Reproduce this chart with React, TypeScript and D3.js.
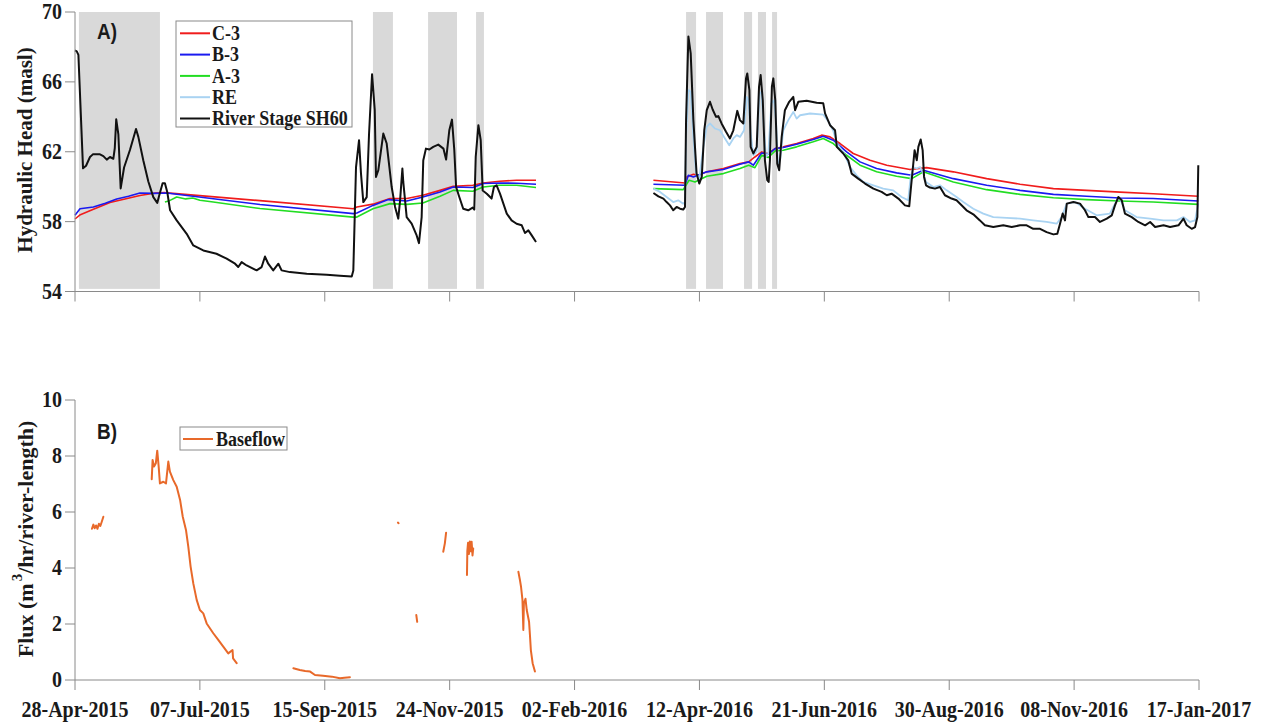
import React from "react";
import * as d3 from "d3";

type Pt = [number, number]; // [days since 28-Apr-2015, value]

const START = new Date(Date.UTC(2015, 3, 28));
const END = new Date(Date.UTC(2017, 0, 17));
const tickDays = [0, 70, 140, 210, 280, 350, 420, 490, 560, 630];
const headTicks = [54, 58, 62, 66, 70];
const fluxTicks = [0, 2, 4, 6, 8, 10];

// shaded high-flow periods [startDay, endDay]
const highFlowPeriods: Pt[] = [
  [2.2, 47.6], [167, 178.2], [197.9, 214.1], [224.8, 229.2],
  [342.5, 348.1], [353.7, 363.2], [375, 379.5], [382.8, 387.3], [390.7, 393.5],
];

// ---- Panel A: hydraulic head (masl) ----
const stage2015: Pt[] = [
  [0, 67.8], [1.0, 67.75], [1.9, 67.55], [4.5, 61.05], [6.2, 61.2], [8.4, 61.7], [10, 61.85], [12.2, 61.86],
  [14, 61.85], [15.9, 61.75], [17.8, 61.55], [19.6, 61.7], [21.5, 61.6], [22.3, 62.2], [23.1, 63.86],
  [24.3, 63.0], [25.6, 59.9], [27.5, 61.1], [30.8, 62.1], [34.2, 63.3], [35.5, 62.85], [38.3, 61.5],
  [41.1, 60.3], [43.9, 59.4], [46.1, 59.07], [47.2, 59.5], [49.1, 60.2], [50.4, 60.2], [51.7, 59.7],
  [53.3, 58.65], [57, 58.07], [62.6, 57.3], [66.3, 56.64], [71.9, 56.35], [79.3, 56.16], [85, 55.88],
  [89.7, 55.59], [91.5, 55.4], [93.4, 55.68], [96.2, 55.49], [101.8, 55.21], [104.6, 55.4], [106.5, 56.0],
  [108.3, 55.59], [111.1, 55.21], [114, 55.59], [115.8, 55.21], [120.5, 55.11], [129.9, 55.02],
  [141.1, 54.96], [148.5, 54.9], [155.1, 54.86], [156, 55.2], [157.5, 61.1], [159.2, 62.66], [160.3, 60.75],
  [161.6, 59.12], [163.5, 59.4], [164.8, 63.0], [166.5, 66.44], [168, 64.4], [168.7, 60.56], [170, 60.94],
  [172.8, 63.04], [174.7, 62.47], [177.5, 59.98], [179.4, 58.84], [181.2, 58.17], [182.2, 59.2],
  [183.5, 61.04], [184, 60.27], [185.9, 58.26], [188.7, 57.88], [191.5, 57.21], [192.8, 56.77],
  [194.3, 58.26], [195.2, 61.5], [196.7, 62.18], [198.6, 62.13], [200.8, 62.28], [203.6, 62.41],
  [206.5, 62.18], [208, 61.55], [209.8, 63.23], [211.3, 63.84], [212.6, 62.09], [213.6, 59.98],
  [215.4, 59.41], [217.6, 58.74], [220.4, 58.65], [222.9, 58.8], [223.8, 58.69], [224.6, 61.7],
  [226.1, 63.52], [227.4, 62.66], [228.5, 59.78], [230.8, 59.6], [233.5, 59.32], [234.8, 59.98],
  [236.3, 60.08], [238.2, 59.6], [240.1, 59.03], [242, 58.46], [244.7, 58.07], [247.5, 57.88],
  [250.4, 57.79], [252.2, 57.35], [254.1, 57.5], [256, 57.21], [258.4, 56.83],
];

const stage2016: Pt[] = [
  [324.2, 59.64], [327, 59.45], [329.8, 59.32], [331.6, 59.12], [333.5, 58.93], [335.3, 58.65],
  [337.2, 58.84], [339.1, 58.74], [340.9, 58.69], [341.9, 58.84], [342.5, 63.8], [343.8, 68.6],
  [345.1, 67.63], [346.6, 63.81], [348.4, 60.75], [349.9, 60.18], [351.3, 60.56], [352.7, 63.23],
  [354.1, 64.38], [355.9, 64.86], [357.4, 64.42], [359.3, 64.0], [360.6, 64.04], [362.4, 63.62],
  [364.9, 63.14], [367.1, 62.76], [369, 63.23], [371.2, 64.34], [372.7, 63.81], [374.6, 63.62],
  [376.1, 66.2], [376.8, 66.48], [378, 65.53], [378.7, 62.28], [380.2, 61.9], [382.1, 62.28],
  [383.4, 65.72], [384.3, 66.39], [385.5, 64.95], [386.7, 61.51], [388, 60.37], [388.8, 60.27],
  [389.5, 61.51], [390.6, 65.72], [391.4, 66.2], [392.5, 64.95], [393.6, 61.32], [394.7, 60.94],
  [396.1, 62.85], [397.9, 64.38], [400.3, 64.86], [402.6, 65.14], [403.6, 64.38], [405.4, 64.86],
  [410.1, 64.92], [415.7, 64.8], [419.4, 64.77], [420.4, 64.2], [423.2, 63.52], [426, 63.23],
  [427, 62.28], [430.6, 61.9], [433.4, 61.51], [435.3, 60.75], [439, 60.46], [442.8, 60.18],
  [447.5, 59.89], [452.1, 59.7], [455, 59.51], [457.7, 59.6], [461.5, 59.32], [465.2, 58.93],
  [467.6, 58.88], [468.4, 59.79], [469.5, 60.94], [470.6, 62.09], [471.8, 61.51], [472.7, 62.28],
  [474, 62.7], [475.1, 62.09], [475.9, 60.56], [477, 60.08], [479.2, 59.95], [482, 59.89],
  [484.8, 59.98], [487.6, 59.51], [491.3, 59.32], [494.1, 59.22], [497.9, 58.84], [499.7, 58.65],
  [503.5, 58.42], [507.2, 58.07], [510, 57.79], [514.7, 57.69], [520.3, 57.79], [525, 57.69],
  [529.7, 57.79], [533.4, 57.79], [537.1, 57.59], [540.9, 57.59], [544.6, 57.4], [548.4, 57.27],
  [550.6, 57.31], [552.1, 57.88], [553.6, 58.46], [554.9, 58.07], [555.9, 59.03], [559.6, 59.12],
  [563.3, 59.03], [566.1, 58.65], [568, 58.26], [571.7, 58.26], [574.5, 57.98], [578.3, 58.17],
  [581.1, 58.36], [582.9, 58.93], [584.8, 59.41], [586.7, 59.22], [588.5, 58.46], [592.3, 58.26],
  [596, 57.98], [599.8, 57.79], [602.6, 57.98], [605.4, 57.69], [610.1, 57.79], [613.8, 57.69],
  [618.5, 57.79], [621.3, 58.17], [623.1, 57.79], [625.9, 57.59], [627.8, 57.69], [629.1, 58.26],
  [629.6, 61.23],
];

const re2016: Pt[] = [
  [324.2, 59.89], [327.9, 59.7], [331.6, 59.41], [335.3, 59.12], [338.1, 59.22], [340.9, 59.03],
  [341.9, 59.12], [342.5, 62.85], [343.8, 65.53], [345.1, 65.43], [346.6, 62.85], [348.1, 60.75],
  [349.9, 60.46], [352.2, 62.28], [354.1, 63.42], [355.9, 63.62], [358.7, 63.33], [361.5, 63.23],
  [364.3, 62.76], [366.7, 62.37], [369, 62.76], [370.9, 62.95], [372.7, 62.85], [375, 63.23],
  [376.5, 65.14], [377.6, 64.95], [378.7, 63.04], [380.2, 61.8], [382.1, 61.99], [383.6, 65.33],
  [384.7, 65.43], [385.8, 63.81], [387.3, 61.7], [388.6, 61.9], [390.3, 64.77], [391.8, 64.95],
  [392.9, 63.81], [394, 61.32], [395.2, 61.51], [397, 63.23], [399.8, 63.81], [402.6, 64.28],
  [404.5, 63.9], [406.4, 64.09], [412, 64.19], [419.4, 64.12], [422.2, 63.75], [425, 63.2],
  [427, 62.47], [430.6, 61.99], [434.4, 61.13], [438.1, 60.65], [441.8, 60.27], [447.5, 60.08],
  [453, 59.89], [458.6, 59.79], [463.3, 59.41], [467, 59.22], [468.4, 60.56], [469.8, 61.13],
  [471.7, 61.04], [473.6, 61.13], [475.5, 60.75], [477, 60.27], [481.1, 59.98], [484.8, 60.08],
  [488.6, 59.79], [494.1, 59.41], [497.9, 59.12], [503.5, 58.74], [509.1, 58.46], [514.7, 58.26],
  [522.2, 58.22], [529.7, 58.17], [537.1, 58.07], [544.6, 57.98], [550.2, 57.88], [553, 58.26],
  [555.9, 59.03], [560.5, 59.12], [566.1, 58.74], [572.6, 58.36], [580, 58.46], [583.9, 59.22],
  [585.7, 59.32], [588.5, 58.65], [595, 58.26], [602.6, 58.17], [610.1, 58.07], [617.6, 58.07],
  [621.3, 58.26], [625, 57.98], [627.8, 58.07], [629.6, 59.03],
];

const c3_2015: Pt[] = [
  [0, 58.15], [3, 58.4], [10, 58.7], [19.6, 59.1], [28, 59.3], [36.4, 59.5], [45, 59.64], [50, 59.66],
  [103.7, 59.2], [156, 58.74], [158, 58.84], [167, 59.0], [176.6, 59.32], [186, 59.32], [195, 59.51],
  [204.6, 59.79], [212, 60.02], [223, 60.08], [228.8, 60.21], [238, 60.31], [247.5, 60.37], [258.4, 60.37],
];
const c3_2016: Pt[] = [
  [324.2, 60.37], [341.9, 60.21], [342.8, 60.56], [346.6, 60.71], [349.5, 60.65], [354.1, 60.85],
  [363.4, 61.04], [372.7, 61.32], [377.6, 61.42], [381.1, 61.7], [384.9, 61.99], [388.6, 61.9],
  [392.4, 62.18], [397, 62.28], [404.5, 62.47], [413.8, 62.76], [418.5, 62.95], [423.2, 62.85],
  [428.8, 62.47], [436.2, 61.9], [445.6, 61.51], [455, 61.23], [468, 60.98], [477.3, 61.09],
  [492.3, 60.85], [511, 60.46], [529.7, 60.14], [548.4, 59.89], [567, 59.79], [585.7, 59.69],
  [604.3, 59.6], [629.6, 59.45],
];

const b3_2015: Pt[] = [
  [0, 58.36], [2.8, 58.74], [10.3, 58.84], [17, 59.05], [23.4, 59.3], [30, 59.45], [36.4, 59.64],
  [44, 59.62], [51.4, 59.64], [103.7, 58.98], [156, 58.46], [158, 58.49], [167, 58.93], [175.6, 59.26],
  [186, 59.18], [195, 59.41], [204.6, 59.69], [212, 59.98], [223, 59.95], [228.8, 60.18], [238, 60.21],
  [247.5, 60.2], [258.4, 60.14],
];
const b3_2016: Pt[] = [
  [324.2, 60.14], [341.9, 60.08], [343.8, 60.65], [346.6, 60.56], [354.1, 60.85], [363.4, 60.98],
  [372.7, 61.28], [377.6, 61.42], [380.2, 61.23], [384.9, 61.93], [388.6, 61.86], [392.4, 62.18],
  [397, 62.24], [404.5, 62.43], [413.8, 62.7], [419.4, 62.89], [425, 62.66], [432.5, 61.99],
  [440, 61.42], [449.3, 61.04], [460.5, 60.79], [469, 60.65], [475.5, 60.94], [492.3, 60.46],
  [511, 60.08], [529.7, 59.79], [548.4, 59.56], [567, 59.45], [585.7, 59.35], [604.3, 59.32],
  [629.6, 59.18],
];

const a3_2015: Pt[] = [
  [50.4, 59.12], [53, 59.2], [57, 59.41], [62, 59.3], [66, 59.35], [70, 59.22], [77.5, 59.12],
  [103.7, 58.75], [156, 58.26], [158, 58.26], [167, 58.74], [176.6, 59.03], [186, 58.99], [195, 59.07],
  [204.6, 59.45], [212, 59.79], [223, 59.74], [228.8, 59.98], [238, 60.08], [247.5, 60.08], [258.4, 59.95],
];
const a3_2016: Pt[] = [
  [324.2, 59.89], [340.9, 59.83], [344.2, 60.37], [347.5, 60.27], [354.1, 60.6], [363.4, 60.75],
  [372.7, 61.04], [377.6, 61.23], [381.1, 61.09], [384.9, 61.8], [388.6, 61.67], [392.4, 62.05],
  [397, 62.09], [404.5, 62.28], [413.8, 62.57], [419.4, 62.76], [425, 62.47], [432.5, 61.8],
  [440, 61.23], [449.3, 60.85], [460.5, 60.6], [469, 60.46], [475.5, 60.85], [492.3, 60.27],
  [511, 59.83], [529.7, 59.56], [548.4, 59.37], [567, 59.26], [585.7, 59.18], [604.3, 59.12],
  [629.6, 58.99],
];

// ---- Panel B: baseflow (m3/hr/river-length) ----
const baseflow: Pt[][] = [
  [[9.5, 5.4], [10.3, 5.55], [11, 5.42], [11.8, 5.52], [12.6, 5.4], [13.4, 5.58], [14.2, 5.5], [15, 5.65], [15.9, 5.83]],
  [[43, 7.17], [43.5, 7.86], [44.3, 7.62], [45.3, 7.74], [46.1, 8.19], [46.9, 7.62], [47.6, 7.02],
   [49.5, 7.08], [51, 7.02], [52.3, 7.8], [53.2, 7.44], [55.1, 7.14], [57, 6.9], [58.9, 6.43],
   [60.4, 5.83], [62.2, 5.36], [63.5, 4.76], [64.8, 4.05], [66.3, 3.45], [68.2, 2.86], [70, 2.5],
   [71.9, 2.38], [73.8, 2.02], [77.5, 1.67], [80.3, 1.43], [83.1, 1.19], [85.9, 0.95], [88.3, 1.07],
   [88.6, 0.77], [90.6, 0.6]],
  [[122.4, 0.42], [126, 0.36], [129, 0.32], [131.8, 0.3], [134.5, 0.18], [139, 0.15], [144, 0.12],
   [148.5, 0.06], [151, 0.08], [154.1, 0.1]],
  [[181, 5.62], [181.4, 5.6]],
  [[191.3, 2.32], [191.8, 2.08]],
  [[206.4, 4.58], [207.3, 4.88], [208, 5.26]],
  [[219.7, 3.75], [219.9, 4.6], [220.3, 4.9], [220.8, 4.5], [221.3, 4.95], [221.8, 4.6], [222.3, 4.94],
   [222.8, 4.45], [223.2, 4.7]],
  [[248.5, 3.87], [249.3, 3.6], [250, 3.33], [250.8, 2.86], [251.3, 1.79], [251.6, 2.74], [252.5, 2.9],
   [253.2, 2.5], [254.5, 2.08], [255, 1.6], [255.5, 1.07], [256.5, 0.6], [257.8, 0.3]],
];

const headSeries = [
  { name: "C-3", color: "#f01c1c", width: 1.6, parts: [c3_2015, c3_2016] },
  { name: "B-3", color: "#1a1af0", width: 1.6, parts: [b3_2015, b3_2016] },
  { name: "A-3", color: "#22dd22", width: 1.6, parts: [a3_2015, a3_2016] },
  { name: "RE", color: "#a9d3f2", width: 1.8, parts: [re2016] },
  { name: "River Stage SH60", color: "#111111", width: 2, parts: [stage2015, stage2016] },
];

const SERIF = "'Liberation Serif', 'Times New Roman', serif";
const SANS = "'Liberation Sans', Arial, sans-serif";
const AXIS = "#8a8a8a";
const TALL = 1.12; // glyphs are set slightly taller than wide

const dayToDate = (d: number) => new Date(START.getTime() + d * 86400000);
const fmt = d3.utcFormat("%d-%b-%Y");

function Label(props: { x: number; y: number; anchor?: string; size: number; family?: string; children: React.ReactNode }) {
  const { x, y, anchor = "start", size, family = SERIF, children } = props;
  return (
    <text transform={`translate(${x},${y}) scale(1,${TALL})`} textAnchor={anchor} dominantBaseline="central"
      fontFamily={family} fontWeight="bold" fontSize={size} fill="#1a1a1a">{children}</text>
  );
}

export default function App() {
  const x = d3.scaleUtc().domain([START, END]).range([75, 1199]);
  const yA = d3.scaleLinear().domain([54, 70]).range([291.5, 12]);
  const yB = d3.scaleLinear().domain([0, 10]).range([680, 400]);
  const lineA = d3.line<Pt>().x((d) => x(dayToDate(d[0]))).y((d) => yA(d[1]));
  const lineB = d3.line<Pt>().x((d) => x(dayToDate(d[0]))).y((d) => yB(d[1]));
  const x0 = x.range()[0];
  const x1 = x.range()[1];

  const legendRows = [33.3, 54.6, 75.9, 97.2, 118.5];

  return (
    <svg width={1262} height={723} style={{ position: "absolute", left: 0, top: 0, background: "#fff" }}>
      {/* Panel A */}
      <g>
        {highFlowPeriods.map(([a, b], i) => (
          <rect key={i} x={x(dayToDate(a))} y={yA(70)} width={x(dayToDate(b)) - x(dayToDate(a))}
            height={yA(54.15) - yA(70)} fill="#d9d9d9" />
        ))}
        {headSeries.map((s) =>
          s.parts.map((p, j) => (
            <path key={s.name + j} d={lineA(p) || ""} fill="none" stroke={s.color} strokeWidth={s.width}
              strokeLinejoin="round" />
          ))
        )}
        <line x1={x0} x2={x0} y1={yA(70)} y2={yA(54)} stroke={AXIS} />
        <line x1={x0} x2={x1} y1={yA(54)} y2={yA(54)} stroke={AXIS} />
        {tickDays.map((d) => (
          <line key={d} x1={x(dayToDate(d))} x2={x(dayToDate(d))} y1={yA(54)} y2={yA(54) + 10} stroke={AXIS} />
        ))}
        {headTicks.map((v) => (
          <g key={v}>
            <line x1={x0 - 10} x2={x0} y1={yA(v)} y2={yA(v)} stroke={AXIS} />
            <Label x={x0 - 13} y={yA(v)} anchor="end" size={20}>{v}</Label>
          </g>
        ))}
        <text transform={`translate(25,150) rotate(-90)`} textAnchor="middle" dominantBaseline="central"
          fontFamily={SERIF} fontWeight="bold" fontSize={21} fill="#1a1a1a">Hydraulic Head (masl)</text>
        <Label x={97} y={32} size={19} family={SANS}>A)</Label>
        <rect x={176} y={21} width={176} height={106} fill="#fff" stroke="#8a8a8a" />
        {headSeries.map((s, i) => (
          <g key={s.name}>
            <line x1={180} x2={210} y1={legendRows[i]} y2={legendRows[i]} stroke={s.color} strokeWidth={2} />
            <Label x={212} y={legendRows[i]} size={18}>{s.name}</Label>
          </g>
        ))}
      </g>

      {/* Panel B */}
      <g>
        {baseflow.map((p, i) => (
          <path key={i} d={lineB(p) || ""} fill="none" stroke="#e8692a" strokeWidth={2}
            strokeLinejoin="round" strokeLinecap="round" />
        ))}
        <line x1={x0} x2={x0} y1={yB(10)} y2={yB(0)} stroke={AXIS} />
        <line x1={x0} x2={x1} y1={yB(0)} y2={yB(0)} stroke={AXIS} />
        {tickDays.map((d) => (
          <g key={d}>
            <line x1={x(dayToDate(d))} x2={x(dayToDate(d))} y1={yB(0)} y2={yB(0) + 10} stroke={AXIS} />
            <Label x={x(dayToDate(d))} y={710} anchor="middle" size={20}>{fmt(dayToDate(d))}</Label>
          </g>
        ))}
        {fluxTicks.map((v) => (
          <g key={v}>
            <line x1={x0 - 10} x2={x0} y1={yB(v)} y2={yB(v)} stroke={AXIS} />
            <Label x={x0 - 13} y={yB(v)} anchor="end" size={20}>{v}</Label>
          </g>
        ))}
        <text transform={`translate(25,539) rotate(-90)`} textAnchor="middle" dominantBaseline="central"
          fontFamily={SERIF} fontWeight="bold" fontSize={22} fill="#1a1a1a">
          Flux (m<tspan dx={2} dy={-8} fontSize={15}>3</tspan><tspan dy={8}>/hr/river-length)</tspan>
        </text>
        <Label x={97} y={432} size={19} family={SANS}>B)</Label>
        <rect x={180} y={427} width={107} height={23} fill="#fff" stroke="#8a8a8a" />
        <line x1={183} x2={213} y1={439} y2={439} stroke="#e8692a" strokeWidth={2} />
        <Label x={216} y={439} size={18}>Baseflow</Label>
      </g>
    </svg>
  );
}
